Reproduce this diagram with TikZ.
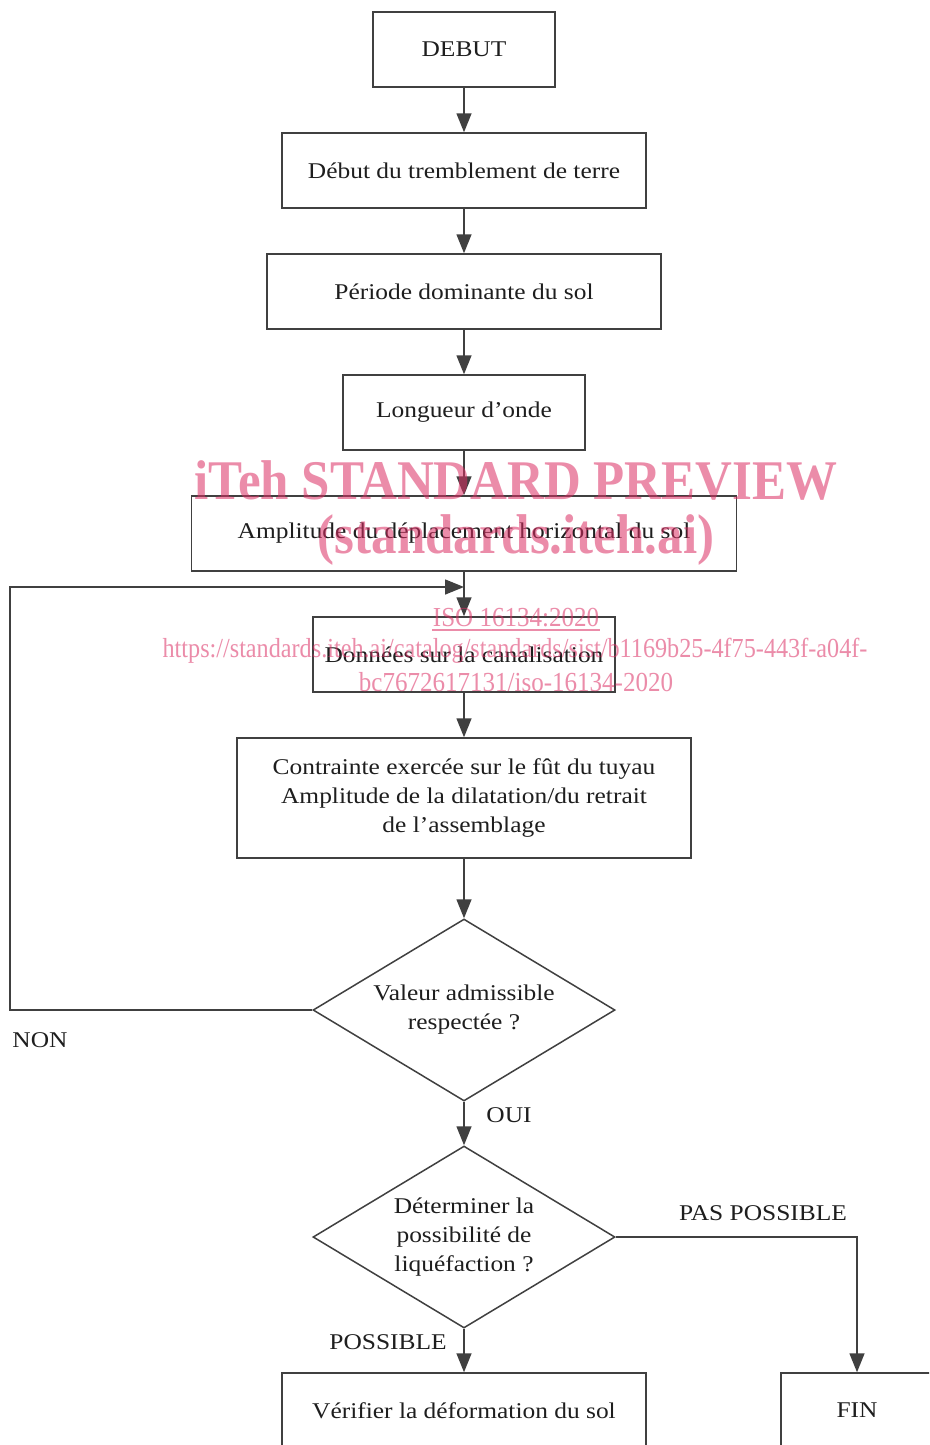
\documentclass[tikz,border=0pt]{standalone}
\usepackage{fontspec}
\setmainfont{Liberation Serif}[FakeStretch=1.13]
\newfontfamily\wmfont{Liberation Serif}
\usetikzlibrary{arrows.meta,shapes.geometric}
\definecolor{linec}{RGB}{64,64,64}
\definecolor{txtc}{RGB}{30,30,30}
\definecolor{wmc}{RGB}{220,46,100}
\newcommand{\mainsz}{\fontsize{22.5}{29}\selectfont}
\tikzset{
  box/.style={draw=linec, line width=1.5pt, minimum height=75pt, inner sep=0pt, font=\mainsz, text=txtc, align=center},
  dia/.style={draw=linec, line width=1.5pt, shape=diamond, minimum width=302pt, minimum height=182pt, inner sep=0pt, shape aspect=1.66, font=\mainsz, text=txtc, align=center},
  arr/.style={draw=linec, line width=1.5pt, -{Triangle[width=15pt,length=19pt]}},
  lbl/.style={font=\mainsz, text=txtc, inner sep=0pt},
  wm/.style={text=wmc, opacity=0.55, inner sep=0pt}
}
\begin{document}
\begin{tikzpicture}[x=1pt,y=-1pt]
\clip (0,0) rectangle (929,1445);
\fill[white] (0,0) rectangle (929,1445);
\node[box, minimum width=182pt] (debut) at (464,49.5) {DEBUT};
\node[box, minimum width=364pt] (trem) at (464,170.5) {Début du tremblement de terre};
\node[box, minimum width=394pt] (per) at (464,291.5) {Période dominante du sol};
\node[box, minimum width=242pt] (lon) at (464,412.5) {Longueur d’onde};
\node[box, minimum width=545pt] (amp) at (464,533.5) {Amplitude du déplacement horizontal du sol};
\node[box, minimum width=302pt] (don) at (464,654.5) {Données sur la canalisation};
\node[box, minimum width=454pt, minimum height=120pt] (con) at (464,798) {Contrainte exercée sur le fût du tuyau\\Amplitude de la dilatation/du retrait\\de l’assemblage};
\node[dia] (d1) at (464,1010) {Valeur admissible\\respectée ?};
\node[dia] (d2) at (464,1237) {Déterminer la\\possibilité de\\liquéfaction ?};
\node[box, minimum width=364pt] (ver) at (464,1410.5) {Vérifier la déformation du sol};
\node[box, minimum width=152pt] (fin) at (857,1410.5) {FIN};
\coordinate (lc) at (10,587);
\coordinate (merge) at (464,587);
\draw[arr] (debut) -- (trem);
\draw[arr] (trem) -- (per);
\draw[arr] (per) -- (lon);
\draw[arr] (lon) -- (amp);
\draw[arr] (amp) -- (don);
\draw[arr] (con) -- (d1);
\draw[arr] (don) -- (con);
\draw[arr] (d1) -- (d2);
\draw[arr] (d2) -- (ver);
\draw[arr] (d2.east) -| (fin.north);
\draw[arr] (d1.west) -| (lc) -- (merge);
\node[lbl] (non) at (40,1040) {NON};
\node[lbl] (oui) at (509,1115) {OUI};
\node[lbl] (pas) at (763,1213) {PAS POSSIBLE};
\node[lbl] (pos) at (388,1342) {POSSIBLE};
% watermark
\node[wm, font=\wmfont\fontsize{56}{60}\selectfont\bfseries] (w1) at (516,480) {\scalebox{0.91}[1]{iTeh STANDARD PREVIEW}};
\node[wm, font=\wmfont\fontsize{56}{60}\selectfont\bfseries] (w2) at (516,540) {\scalebox{0.91}[1]{(standards.iteh.ai)}};
\node[wm, font=\wmfont\fontsize{27.5}{30}\selectfont] (w3) at (516,618) {\scalebox{0.91}[1]{ISO 16134:2020}};
\draw[wmc, opacity=0.55, line width=1.2pt] (432,630) -- (600,630);
\node[wm, font=\wmfont\fontsize{27.5}{30}\selectfont] (w4) at (515,651) {\scalebox{0.88}[1]{https://standards.iteh.ai/catalog/standards/sist/b1169b25-4f75-443f-a04f-}};
\node[wm, font=\wmfont\fontsize{27.5}{30}\selectfont] (w5) at (516,682) {\scalebox{0.91}[1]{bc7672617131/iso-16134-2020}};
\end{tikzpicture}
\end{document}
